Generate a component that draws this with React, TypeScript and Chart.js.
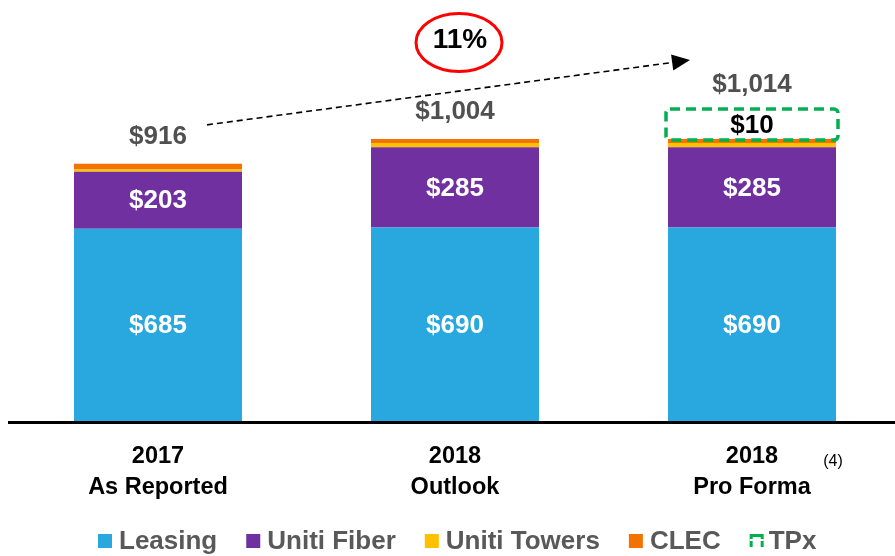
import React, { useEffect, useRef } from 'react';
import { Chart, registerables } from 'chart.js';

Chart.register(...registerables);

const categories = [['2017', 'As Reported'], ['2018', 'Outlook'], ['2018', 'Pro Forma']];
const leasing = [685, 690, 690];
const fiber = [203, 285, 285];
const towers = [8, 15, 15];
const clec = [20, 14, 14];
const tpx = [null, null, 10];
const seriesNames = ['Leasing', 'Uniti Fiber', 'Uniti Towers', 'CLEC', 'TPx'];
const seriesColors = ['#29A8E0', '#7030A0', '#FFC000', '#F47200', '#00B050'];
const growthLabel = '11%';
const footnote = '(4)';

const FONT = "'Liberation Sans', Arial, Helvetica, sans-serif";
const TPX_BOX_H = 31;

const fmt = (v: number) => '$' + v.toLocaleString('en-US');

const overlay = {
  id: 'overlay',
  afterDatasetsDraw(chart: any) {
    const ctx = chart.ctx as CanvasRenderingContext2D;
    const ys = chart.scales.y;
    const xs = chart.scales.x;
    const area = chart.chartArea;
    ctx.save();

    // axis line
    ctx.strokeStyle = '#000';
    ctx.lineWidth = 3;
    ctx.beginPath();
    ctx.moveTo(8, area.bottom + 1);
    ctx.lineTo(chart.width, area.bottom + 1);
    ctx.stroke();

    // inner labels
    ctx.font = `bold 26px ${FONT}`;
    ctx.fillStyle = '#fff';
    ctx.textAlign = 'center';
    ctx.textBaseline = 'middle';
    [0, 1].forEach((di) => {
      const meta = chart.getDatasetMeta(di);
      meta.data.forEach((el: any, j: number) => {
        const p = el.getProps(['x', 'y', 'base'], true);
        const v = chart.data.datasets[di].data[j];
        ctx.fillText(fmt(v), p.x, (p.y + p.base) / 2 + 1);
      });
    });

    // TPx box
    const tmeta = chart.getDatasetMeta(4);
    const boxTops: (number | null)[] = [];
    tmeta.data.forEach((el: any, j: number) => {
      const v = tpx[j];
      if (v == null) { boxTops.push(null); return; }
      const p = el.getProps(['x', 'base', 'width'], true);
      const left = p.x - p.width / 2 - 2;
      const right = p.x + p.width / 2 + 2;
      const bottom = p.base + 1;
      const top = bottom - TPX_BOX_H;
      boxTops.push(top);
      ctx.save();
      ctx.strokeStyle = seriesColors[4];
      ctx.lineWidth = 3.5;
      ctx.setLineDash([10, 6]);
      ctx.beginPath();
      (ctx as any).roundRect(left, top, right - left, bottom - top, 4);
      ctx.stroke();
      ctx.restore();
      ctx.font = `bold 26px ${FONT}`;
      ctx.fillStyle = '#000';
      ctx.fillText(fmt(v), p.x, (top + bottom) / 2 + 1);
    });

    // totals
    const labelYs: number[] = [];
    categories.forEach((_, j) => {
      const base = leasing[j] + fiber[j] + towers[j] + clec[j];
      const total = base + (tpx[j] ?? 0);
      const cx = xs.getPixelForValue(j);
      let ly: number;
      if (boxTops[j] != null) ly = (boxTops[j] as number) - 24;
      else ly = ys.getPixelForValue(base) - 27;
      labelYs.push(ly);
      ctx.font = `bold 26px ${FONT}`;
      ctx.fillStyle = '#505050';
      ctx.fillText(fmt(total), cx, ly);
    });

    // growth arrow
    const sx = xs.getPixelForValue(0) + 49;
    const sy = labelYs[0] - 12;
    const ex = xs.getPixelForValue(2) - 62;
    const ey = labelYs[2] - 25;
    const ang = Math.atan2(ey - sy, ex - sx);
    const headLen = 18;
    const bx = ex - headLen * Math.cos(ang);
    const by = ey - headLen * Math.sin(ang);
    ctx.save();
    ctx.strokeStyle = '#000';
    ctx.lineWidth = 1.6;
    ctx.setLineDash([6, 4]);
    ctx.beginPath();
    ctx.moveTo(sx, sy);
    ctx.lineTo(bx, by);
    ctx.stroke();
    ctx.setLineDash([]);
    ctx.fillStyle = '#000';
    ctx.beginPath();
    ctx.moveTo(ex, ey);
    ctx.lineTo(bx + 8 * Math.sin(ang), by - 8 * Math.cos(ang));
    ctx.lineTo(bx - 8 * Math.sin(ang), by + 8 * Math.cos(ang));
    ctx.closePath();
    ctx.fill();
    ctx.restore();

    // growth ellipse
    const gx = xs.getPixelForValue(1) + 4;
    const gy = area.top - 41.5;
    ctx.save();
    ctx.strokeStyle = '#FF0000';
    ctx.lineWidth = 3;
    ctx.beginPath();
    ctx.ellipse(gx, gy, 43, 29, 0, 0, Math.PI * 2);
    ctx.stroke();
    ctx.restore();
    ctx.font = `bold 28px ${FONT}`;
    ctx.fillStyle = '#000';
    ctx.fillText(growthLabel, gx + 1, gy - 2);

    // footnote
    ctx.font = `16px ${FONT}`;
    ctx.fillStyle = '#000';
    ctx.fillText(footnote, xs.getPixelForValue(2) + 81, 462);

    // legend
    const ly = 541;
    let x = 98;
    ctx.font = `bold 26px ${FONT}`;
    ctx.textAlign = 'left';
    seriesNames.forEach((name, i) => {
      if (i < 4) {
        ctx.fillStyle = seriesColors[i];
        ctx.fillRect(x, ly - 7, 14, 14);
      } else {
        ctx.save();
        ctx.strokeStyle = seriesColors[4];
        ctx.lineWidth = 3;
        ctx.beginPath();
        ctx.moveTo(x + 1.5, ly + 6);
        ctx.lineTo(x + 1.5, ly - 5.5);
        ctx.lineTo(x + 12.5, ly - 5.5);
        ctx.lineTo(x + 12.5, ly + 6);
        ctx.stroke();
        ctx.strokeStyle = '#fff';
        ctx.lineWidth = 2;
        ctx.beginPath();
        ctx.moveTo(x, ly - 1);
        ctx.lineTo(x + 14, ly - 1);
        ctx.stroke();
        ctx.restore();
      }
      const tx = x + (i < 4 ? 21 : 19);
      ctx.fillStyle = '#595959';
      ctx.fillText(name, tx, ly + 1);
      x = tx + ctx.measureText(name).width + 29;
    });

    ctx.restore();
  },
};

export default function App() {
  const ref = useRef<HTMLCanvasElement>(null);
  useEffect(() => {
    if (!ref.current) return;
    const data = [leasing, fiber, towers, clec, tpx];
    const chart = new Chart(ref.current, {
      type: 'bar',
      data: {
        labels: categories as any,
        datasets: data.map((d, i) => ({
          label: seriesNames[i],
          data: d as any,
          backgroundColor: i === 4 ? 'rgba(0,0,0,0)' : seriesColors[i],
          borderWidth: 0,
          barPercentage: 168 / 297,
          categoryPercentage: 1,
        })),
      },
      options: {
        responsive: false,
        animation: false,
        layout: { padding: { left: 9.5, right: 9.5, top: 84, bottom: 33.5 } },
        plugins: { legend: { display: false }, tooltip: { enabled: false } },
        scales: {
          x: {
            stacked: true,
            grid: { display: false, drawTicks: false },
            border: { display: false },
            ticks: {
              padding: 19.5,
              color: '#000',
              font: { family: FONT, size: 23.5, weight: 'bold', lineHeight: 1.32 },
              maxRotation: 0,
            },
          },
          y: { stacked: true, display: false, min: 0, max: 1200 },
        },
      },
      plugins: [overlay],
    });
    return () => chart.destroy();
  }, []);
  return (
    <div style={{ position: 'fixed', left: 0, top: 0, width: 895, height: 556, overflow: 'hidden', background: '#fff' }}>
      <canvas ref={ref} width={910} height={556} style={{ display: 'block', width: 910, height: 556 }} />
    </div>
  );
}
